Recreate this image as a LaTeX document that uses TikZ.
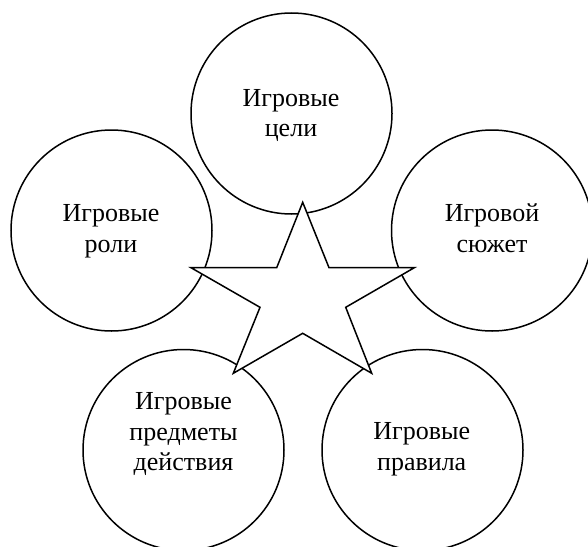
\documentclass[tikz,border=0pt]{standalone}
\usepackage{fontspec}
\setmainfont{Liberation Serif}
\begin{document}
\begin{tikzpicture}[x=1pt,y=-1pt,
  ring/.style={circle,draw=black,line width=1.5pt,minimum size=201pt,inner sep=0pt,outer sep=0pt,fill=white},
  lbl/.style={align=center,font=\fontsize{26pt}{30.7pt}\selectfont,inner sep=0pt},
  starline/.style={draw=black,line width=1.5pt,fill=white,line join=miter}]
\useasboundingbox (0,0) rectangle (588,546);
\clip (0,0) rectangle (588,546);
\node[ring] (c1) at (291.5,113.5) {};
\node[ring] (c2) at (111.5,230.5) {};
\node[ring] (c3) at (492,230.5) {};
\node[ring] (c4) at (183.5,450) {};
\node[ring] (c5) at (422.5,450) {};
\draw[starline] (302.7,202.3) -- (329,267.7) -- (414.3,267.7) -- (345.7,307.3)
  -- (371.7,373.3) -- (302.7,333.3) -- (233.3,373.3) -- (260,307.3)
  -- (191,267.7) -- (276.7,267.7) -- cycle;
\node[lbl] (t1) at (291,115.5) {Игровые\\цели};
\node[lbl] (t2) at (111,231.3) {Игровые\\роли};
\node[lbl] (t3) at (492,228.5) {Игровой\\сюжет};
\node[lbl] (t4) at (183.5,434) {Игровые\\предметы\\действия};
\node[lbl] (t5) at (421.7,449.5) {Игровые\\правила};
\end{tikzpicture}
\end{document}
